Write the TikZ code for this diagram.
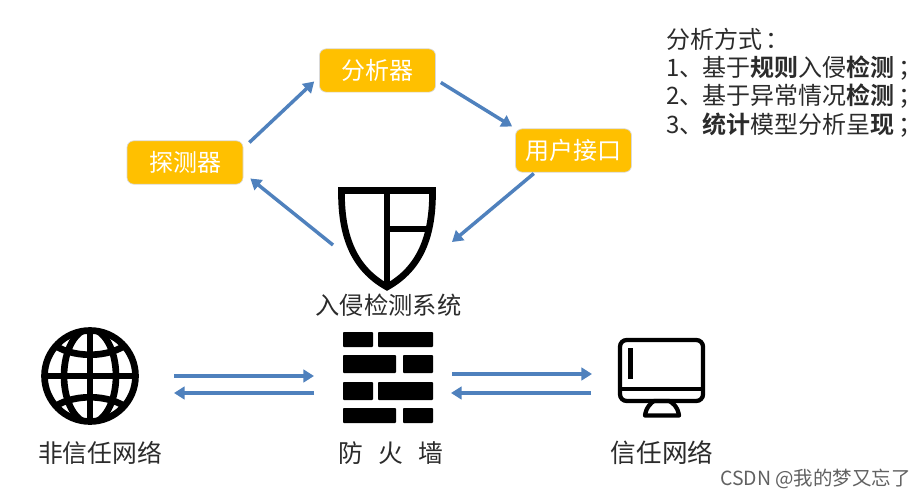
\documentclass[tikz,border=0pt]{standalone}
\usepackage{fontspec}
\setmainfont{Noto Sans CJK SC}[BoldFont={Noto Sans CJK SC Bold}]
\usetikzlibrary{arrows.meta}
\definecolor{boxfill}{HTML}{FFC000}
\definecolor{arrowblue}{HTML}{4F81BD}
\definecolor{txt}{HTML}{2B2B2B}
\newcommand{\semi}{\hspace{3pt}；}
\tikzset{
  boxnode/.style={draw=black!15,line width=0.5pt,fill=boxfill,rounded corners=5pt,text=white,font=\fontsize{18pt}{20pt}\selectfont,minimum width=87pt,minimum height=32.5pt,inner sep=0pt},
  flow/.style={draw=arrowblue,line width=2.6pt,-{Triangle[length=8pt,width=9.5pt]}},
  label/.style={text=txt,font=\fontsize{18.6pt}{20pt}\selectfont,inner sep=0pt},
  icon/.style={inner sep=0pt,outer sep=0pt},
  ink/.style={draw=black,line join=miter},
  brick/.style={fill=black,rounded corners=0.6pt},
}
\begin{document}
\begin{tikzpicture}[x=0.75pt,y=-0.75pt]
\useasboundingbox (0,0) rectangle (923,499);
\fill[white] (0,0) rectangle (923,499);

% boxes
\node[boxnode] (det) at (185,162.5) {探测器};
\node[boxnode] (ana) at (377.5,70.5) {分析器};
\node[boxnode] (ui) at (573.5,150.5) {用户接口};

% icon anchors
\node[icon,minimum width=73.5pt,minimum height=78pt] (shield) at (387,239) {};
\node[icon,minimum width=72pt,minimum height=72pt] (globe) at (90,376) {};
\node[icon,minimum width=67.5pt,minimum height=68.25pt] (wall) at (388,377.5) {};
\node[icon,minimum width=65.25pt,minimum height=60pt] (mon) at (661.5,378) {};

% shield
\draw[ink,line width=5pt,line join=miter]
  (341.5,190.5) -- (432.5,190.5)
  .. controls (433,235) and (421,268) .. (387,287)
  .. controls (353,268) and (341,235) .. (341.5,190.5) -- cycle;
\draw[ink,line width=4.6pt] (387,189) -- (387,288);
\draw[ink,line width=4.6pt] (387,229) -- (428,229);

% globe
\begin{scope}
\clip (90,376) circle (47);
\draw[ink,line width=5pt] (90,328) -- (90,424);
\draw[ink,line width=5pt] (42,376) -- (138,376);
\draw[ink,line width=5pt] (90,376) ellipse (26 and 47);
\draw[ink,line width=5pt] (50,342) .. controls (70,359) and (110,359) .. (130,342);
\draw[ink,line width=5pt] (50,410) .. controls (70,393) and (110,393) .. (130,410);
\end{scope}
\draw[ink,line width=5pt] (90,376) circle (45.5);

% firewall
\fill[brick] (343,332) rectangle (373,347);
\fill[brick] (378,332) rectangle (433,347);
\fill[brick] (343,355) rectangle (396,373);
\fill[brick] (403,355) rectangle (433,373);
\fill[brick] (343,382) rectangle (373,400);
\fill[brick] (378,382) rectangle (433,400);
\fill[brick] (343,408) rectangle (396,423);
\fill[brick] (403,408) rectangle (433,423);

% monitor
\draw[ink,line width=3.2pt,rounded corners=5pt] (620,340) rectangle (703,401);
\draw[ink,line width=3.2pt] (620,389) -- (703,389);
\fill[black] (628,348) rectangle (633,379);
\draw[ink,line width=3.2pt,line join=round] (645,415.5) .. controls (646,407) and (652,402) .. (654,401)
  -- (669,401) .. controls (672,402) and (678,407) .. (679,415.5) -- cycle;

% connectors
\draw[flow] ([shift={(6,2)}]det.north east) -- ([shift={(-5,33)}]ana.north west);
\draw[flow] ([shift={(5,-10)}]ana.south east) -- ([shift={(-3,-2)}]ui.north west);
\draw[flow] ([shift={(-98,1)}]ui.south east) -- ([shift={(65,-49)}]shield.south);
\draw[flow] ([shift={(-54,-46)}]shield.south) -- ([shift={(7,-6)}]det.south east);
\draw[flow] ([shift={(36,0)}]globe.east) -- ([shift={(-29,-1.5)}]wall.west);
\draw[flow] ([shift={(-29,15.5)}]wall.west) -- ([shift={(36,17)}]globe.east);
\draw[flow] ([shift={(19,-3.5)}]wall.east) -- ([shift={(-26,-4)}]mon.west);
\draw[flow] ([shift={(-27,15)}]mon.west) -- ([shift={(18,15.5)}]wall.east);

% labels
\node[label,font=\fontsize{18.2pt}{20pt}\selectfont] (idsl) at (388.5,305) {入侵检测系统};
\node[label] (untl) at (100,453) {非信任网络};
\node[label] (fwl) at (391,453) {防\hspace{11.5pt}火\hspace{11.5pt}墙};
\node[label,font=\fontsize{19.2pt}{20pt}\selectfont] (trl) at (662,453) {信任网络};
\node[label,anchor=north west,align=left,font=\fontsize{18pt}{21.3pt}\selectfont] (list) at (666,27.5) {分析方式\hspace{2.5pt}：\\1、\hspace{-1pt}基于\textbf{规则}入侵\textbf{检测}\semi\\2、\hspace{-1pt}基于异常情况\textbf{检测}\semi\\3、\hspace{-1pt}\textbf{统计}模型分析呈\textbf{现}\semi};
\node[inner sep=0pt,text=black!62,font=\fontsize{14.6pt}{16pt}\selectfont,anchor=east] (wm) at (911,479) {CSDN @我的梦又忘了};
\end{tikzpicture}
\end{document}
